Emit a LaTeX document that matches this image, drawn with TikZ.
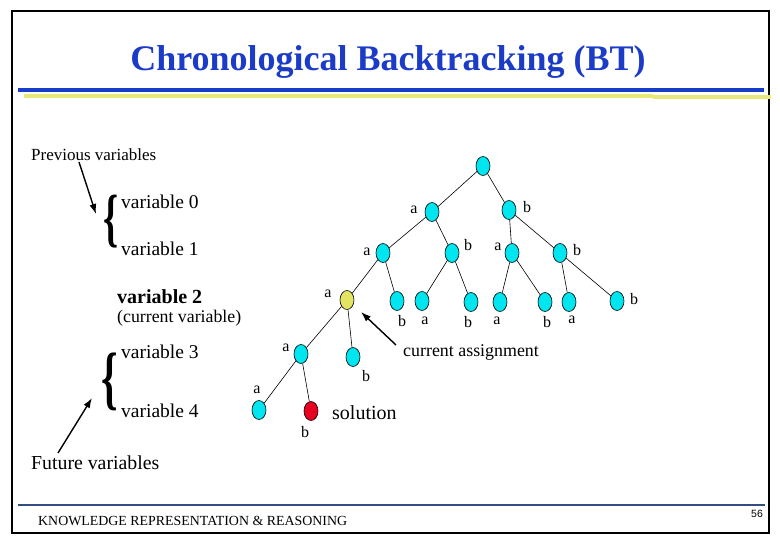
\documentclass[tikz,border=0pt]{standalone}
\usepackage{fontspec}
\setmainfont{Liberation Serif}
\newfontfamily\sansf{Liberation Sans}
\usetikzlibrary{arrows.meta,shapes.geometric}
\definecolor{titleblue}{RGB}{28,60,200}
\definecolor{lineblue}{RGB}{22,60,200}
\definecolor{lineyellow}{RGB}{232,232,120}
\definecolor{footblue}{RGB}{48,78,128}
\definecolor{nodecyan}{RGB}{0,230,240}
\definecolor{nodeyellow}{RGB}{228,228,100}
\definecolor{nodered}{RGB}{232,0,32}
\begin{document}
\begin{tikzpicture}[x=1pt,y=-1pt,
 tn/.style={ellipse,draw=black,line width=0.6pt,fill=nodecyan,minimum width=14pt,minimum height=19pt,inner sep=0pt},
 edge/.style={draw=black,line width=0.6pt},
 lbl/.style={inner sep=0pt,font=\fontsize{16}{16}\selectfont},
 txt/.style={inner sep=0pt,anchor=west},
 pointer/.style={draw=black,line width=1.4pt,-{Latex[length=10pt,width=7pt]}}
]
\useasboundingbox (0,0) rectangle (780,540);
\draw[line width=1.2pt] (12,11) rectangle (769,533);

% title and rules
\node[inner sep=0pt,anchor=base,text=titleblue,font=\fontsize{36}{36}\selectfont\bfseries] (title) at (388,71) {Chronological Backtracking (BT)};
\coordinate (bl1) at (18,90); \coordinate (bl2) at (648,90); \coordinate (bl3) at (764,90);
\draw[lineblue,line width=3.5pt] (bl1) -- (bl2);
\draw[lineblue,line width=4.5pt] (bl2) -- (bl3);
\coordinate (yl1) at (24,96); \coordinate (yl2) at (653,96); \coordinate (yl3) at (653,97); \coordinate (yl4) at (771,97);
\draw[lineyellow,line width=3.5pt] (yl1) -- (yl2);
\draw[lineyellow,line width=3.5pt] (yl3) -- (yl4);

% footer
\coordinate (fl1) at (18,505); \coordinate (fl2) at (765,505);
\draw[footblue,line width=2pt] (fl1) -- (fl2);
\node[txt,font=\fontsize{13.9}{14}\selectfont] (foot) at (38,520.5) {KNOWLEDGE REPRESENTATION \& REASONING};
\node[inner sep=0pt,font=\sansf\fontsize{10.5}{11}\selectfont] (page) at (757,514) {56};

% left texts
\node[txt,font=\fontsize{17}{18}\selectfont] (prev) at (31,155) {Previous variables};
\node[txt,font=\fontsize{19.5}{20}\selectfont] (v0) at (121,202) {variable 0};
\node[txt,font=\fontsize{19.5}{20}\selectfont] (v1) at (121,249) {variable 1};
\node[txt,font=\fontsize{20}{20}\selectfont\bfseries] (v2) at (117,297) {variable 2};
\node[txt,font=\fontsize{17.8}{18}\selectfont] (cv) at (117,318) {(current variable)};
\node[txt,font=\fontsize{19.5}{20}\selectfont] (v3) at (121,352) {variable 3};
\node[txt,font=\fontsize{19.5}{20}\selectfont] (v4) at (121,411) {variable 4};
\node[txt,font=\fontsize{19.8}{20}\selectfont] (fut) at (31,463) {Future variables};
\node[inner sep=0pt,font=\fontsize{64}{64}\selectfont\bfseries] (br1) at (111,222) {\scalebox{0.6}[1]{\{}};
\node[inner sep=0pt,font=\fontsize{70}{70}\selectfont\bfseries] (br2) at (110,382) {\scalebox{0.6}[1]{\{}};
\coordinate (pt1) at (79,162); \coordinate (ph1) at (96,214);
\draw[pointer] (pt1) -- (ph1);
\coordinate (pt2) at (58,453); \coordinate (ph2) at (92,398);
\draw[pointer] (pt2) -- (ph2);

% tree
\node[tn] (root) at (483,166) {};
\node[tn] (a1) at (432,212) {};
\node[tn] (b1) at (509,210) {};
\node[tn] (aa) at (383,253) {};
\node[tn] (ab) at (452,253) {};
\node[tn] (ba) at (512,253) {};
\node[tn] (bb) at (560,253) {};
\node[tn,fill=nodeyellow] (aaa) at (347,300) {};
\node[tn] (aab) at (397,301) {};
\node[tn] (aba) at (422,301) {};
\node[tn] (abb) at (471,302) {};
\node[tn] (baa) at (500,302) {};
\node[tn] (bab) at (545,302) {};
\node[tn] (bba) at (569,302) {};
\node[tn] (bbb) at (617,301) {};
\node[tn] (aaaa) at (301,354) {};
\node[tn] (aaab) at (353,357) {};
\node[tn] (a5) at (259,410) {};
\node[tn,fill=nodered] (sol) at (311,411) {};

\foreach \p/\c in {root/a1,root/b1,a1/aa,a1/ab,b1/ba,b1/bb,aa/aaa,aa/aab,ab/aba,ab/abb,ba/baa,ba/bab,bb/bba,bb/bbb,aaa/aaaa,aaa/aaab,aaaa/a5,aaaa/sol}
  \draw[edge] (\p) -- (\c);

% branch labels
\node[lbl] (la1) at (414,210) {a};
\node[lbl] (lb1) at (527,207) {b};
\node[lbl] (laa) at (367,252) {a};
\node[lbl] (lab) at (468,245) {b};
\node[lbl] (lba) at (498,247) {a};
\node[lbl] (lbb) at (577,250) {b};
\node[lbl] (laaa) at (328,294) {a};
\node[lbl] (laab) at (402,321) {b};
\node[lbl] (laba) at (425,321) {a};
\node[lbl] (labb) at (468,322) {b};
\node[lbl] (lbaa) at (497,321) {a};
\node[lbl] (lbab) at (547,322) {b};
\node[lbl] (lbba) at (572,320) {a};
\node[lbl] (lbbb) at (634,299) {b};
\node[lbl] (laaaa) at (286,348) {a};
\node[lbl] (laaab) at (366,376) {b};
\node[lbl] (la5) at (257,390) {a};
\node[lbl] (lsol) at (305,432) {b};

\node[txt,font=\fontsize{20}{20}\selectfont] (soltxt) at (332,413) {solution};
\node[txt,font=\fontsize{17.9}{18}\selectfont] (catxt) at (403,353) {current assignment};
\coordinate (cat) at (396,345); \coordinate (cah) at (361,312);
\draw[pointer] (cat) -- (cah);
\end{tikzpicture}
\end{document}
